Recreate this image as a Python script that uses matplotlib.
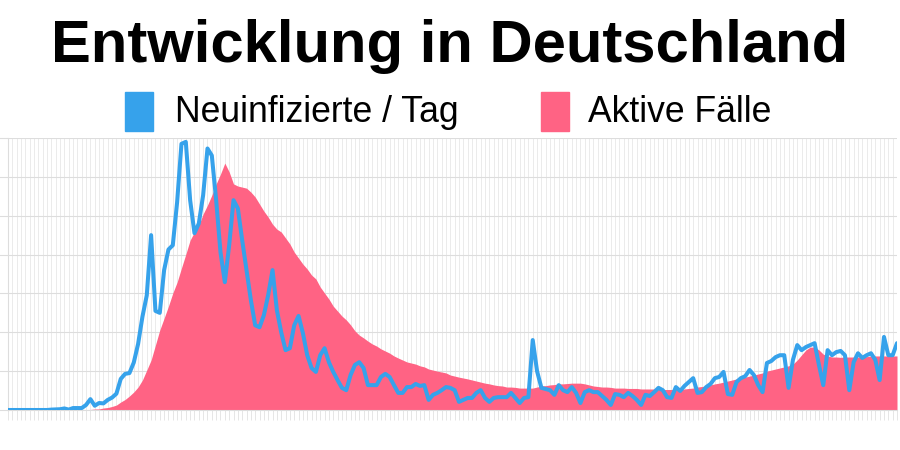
import matplotlib.pyplot as plt
import numpy as np
from matplotlib.patches import Rectangle

# daily values (one entry per day)
new_cases = [
    0, 0, 0, 0, 0, 0, 0, 0, 0, 0,
    10, 15, 20, 40, 10, 50, 50, 50, 130, 280,
    110, 180, 170, 260, 320, 420, 800, 930, 950, 1220,
    1700, 2400, 2950, 4500, 2550, 2500, 3600, 4130, 4240, 5350,
    6850, 6900, 5400, 4550, 4800, 5530, 6730, 6550, 5400, 4060,
    3290, 4240, 5400, 5190, 4370, 3600, 2830, 2180, 2130, 2440,
    2960, 3600, 2570, 2000, 1540, 1590, 2180, 2420, 1980, 1410,
    1080, 980, 1410, 1590, 1230, 980, 770, 570, 510, 900,
    1160, 1230, 1080, 640, 640, 640, 850, 930, 850, 640,
    440, 440, 590, 590, 670, 620, 640, 260, 390, 440,
    510, 590, 570, 510, 210, 260, 310, 310, 440, 510,
    310, 210, 310, 330, 330, 330, 440, 310, 180, 310,
    330, 1800, 1000, 570, 540, 510, 390, 640, 510, 460,
    590, 440, 180, 460, 510, 460, 460, 360, 260, 130,
    410, 390, 330, 440, 360, 260, 130, 390, 360, 460,
    570, 510, 330, 310, 590, 490, 620, 720, 820, 440,
    460, 590, 670, 820, 850, 980, 410, 390, 720, 820,
    870, 1030, 900, 640, 460, 1210, 1260, 1360, 1410, 1410,
    570, 1290, 1670, 1540, 1620, 1670, 1720, 1160, 640, 1540,
    1410, 1490, 1520, 1410, 510, 1230, 1460, 1340, 1410, 1460,
    1290, 770, 1880, 1410, 1410, 1720,
]

active_cases = [
    0, 0, 0, 0, 0, 0, 0, 0, 0, 0,
    0, 0, 0, 0, 0, 0, 0, 0, 50, 150,
    280, 300, 560, 700, 1000, 1400, 2260, 2970, 3960, 5090,
    6500, 8490, 11300, 14150, 18400, 22640, 26000, 29400, 33100, 36200,
    40200, 44100, 48100, 50400, 52300, 55500, 58000, 60800, 64000, 66800,
    69900, 67400, 64000, 63400, 63100, 62800, 61700, 60300, 58300, 56300,
    54600, 52600, 51200, 50400, 48700, 47000, 44700, 43000, 41300, 39900,
    38200, 37100, 34800, 33100, 31400, 29400, 28000, 26600, 25500, 24100,
    22400, 21200, 20400, 19500, 18700, 18100, 17300, 16700, 16100, 15300,
    14700, 14150, 13600, 13300, 13000, 12500, 12200, 11600, 11300, 11000,
    10750, 10500, 9900, 9600, 9300, 9050, 8800, 8500, 8200, 7900,
    7600, 7400, 7100, 6900, 6800, 6500, 6500, 6400, 6200, 6200,
    6200, 6200, 6500, 6800, 6900, 7100, 7200, 7400, 7400, 7500,
    7600, 7600, 7600, 7400, 7100, 6800, 6650, 6500, 6500, 6400,
    6200, 6200, 6200, 6100, 6100, 6100, 5950, 5950, 5950, 5950,
    5950, 5800, 5800, 5800, 5800, 5800, 5950, 6100, 6200, 6500,
    6650, 6800, 7100, 7400, 7600, 7900, 8200, 8500, 8800, 9050,
    9300, 9600, 9900, 10200, 10500, 11000, 11300, 11600, 11900, 12200,
    12500, 13000, 14150, 15600, 17000, 17800, 17800, 17000, 15800, 15300,
    15000, 15000, 14900, 15000, 15000, 15000, 15000, 15000, 15100, 15300,
    15300, 15300, 15300, 15300, 15300, 15300,
]

title = "Entwicklung in Deutschland"
labels = ["Neuinfizierte / Tag", "Aktive Fälle"]
blue = "#36a2eb"
pink = "#ff6384"

plt.rcParams['font.family'] = ['Liberation Sans', 'DejaVu Sans']

days = np.arange(len(new_cases))

fig = plt.figure(figsize=(9, 4.5), dpi=100)
ax = fig.add_axes([8 / 900, 40 / 450, 889 / 900, 272 / 450])

# active cases as filled area (left axis, carries the grid)
ax.fill_between(days, active_cases, color=pink, lw=0, zorder=2)
ax.set_xlim(0, len(days) - 1)
ax.set_ylim(0, 77000)
ax.set_yticks(np.arange(0, 77001, 11000))
ax.set_xticks(days)
ax.grid(axis='y', color='#dddddd', lw=0.8, zorder=0)
ax.grid(axis='x', color='#ebebeb', lw=0.7, zorder=0)
ax.set_axisbelow(True)
ax.tick_params(axis='x', length=7, color='#e6e6e6', width=0.7,
               labelbottom=False)
ax.tick_params(axis='y', length=8, color='#dddddd', width=0.8,
               labelleft=False)
for s in ['top', 'right']:
    ax.spines[s].set_visible(False)
for s in ['left', 'bottom']:
    ax.spines[s].set_color('#dddddd')
    ax.spines[s].set_linewidth(0.8)

# new cases per day (own scale)
ax2 = ax.twinx()
ax2.plot(days, new_cases, color=blue, lw=2.9, solid_joinstyle='round',
         solid_capstyle='round', zorder=3)
ax2.set_ylim(0, 7000)
ax2.set_xlim(0, len(days) - 1)
ax2.axis('off')

fig.text(0.5, 1 - 62 / 450, title, ha='center', va='baseline',
         fontsize=43, fontweight='bold')

# legend
fig.add_artist(Rectangle((125 / 900, 1 - 131 / 450), 28 / 900, 39 / 450,
                         transform=fig.transFigure, color=blue))
fig.add_artist(Rectangle((541 / 900, 1 - 131 / 450), 28 / 900, 39 / 450,
                         transform=fig.transFigure, color=pink))
fig.text(175 / 900, 1 - 122 / 450, labels[0], ha='left', va='baseline',
         fontsize=25.6)
fig.text(588 / 900, 1 - 122 / 450, labels[1], ha='left', va='baseline',
         fontsize=25.6)

fig.savefig("out.png", dpi=100, facecolor='white')
